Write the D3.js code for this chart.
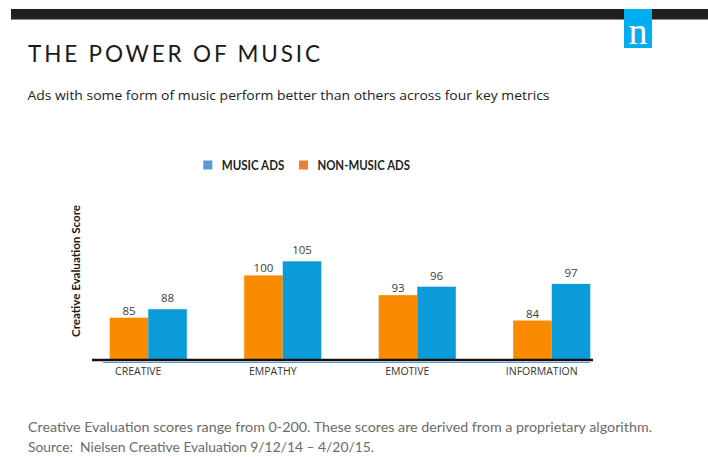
<!DOCTYPE html>
<html>
<head>
<meta charset="utf-8">
<script src="https://cdn.jsdelivr.net/npm/d3@7"></script>
<style>
  html, body { margin: 0; padding: 0; background: #fff; }
  svg { display: block; }
  text { white-space: pre; }
</style>
</head>
<body>
<div id="chart"></div>
<script>
// Creative Evaluation scores by metric
const categories = ["CREATIVE", "EMPATHY", "EMOTIVE", "INFORMATION"];
const musicAds = [88, 105, 96, 97];
const nonMusicAds = [85, 100, 93, 84];
const seriesNames = ["NON-MUSIC ADS", "MUSIC ADS"];
const legendOrder = ["MUSIC ADS", "NON-MUSIC ADS"];
const yDomain = [70, 110];

const W = 708, H = 457;
const svg = d3.select("#chart").append("svg")
  .attr("width", W).attr("height", H);

// header band and logo
svg.append("rect").attr("x", 11).attr("y", 9).attr("width", W - 11).attr("height", 10)
  .attr("fill", "#231f20");
svg.append("rect").attr("x", 11).attr("y", 19).attr("width", W - 11).attr("height", 1)
  .attr("fill", "#8a8a8a");
svg.append("rect").attr("x", 624).attr("y", 9).attr("width", 28).attr("height", 39)
  .attr("fill", "#00aeef");
svg.append("text").attr("x", 638).attr("y", 43.5).attr("text-anchor", "middle")
  .attr("font-family", "Liberation Serif, serif").attr("font-size", 38)
  .attr("fill", "#fff").text("n");

// title block
svg.append("text").attr("x", 28).attr("y", 61.7)
  .attr("font-family", "Lato, sans-serif").attr("font-size", 22.5)
  .attr("fill", "#1a1a1a")
  .attr("textLength", 292).attr("lengthAdjust", "spacing")
  .text("THE POWER OF MUSIC");
svg.append("text").attr("x", 27.5).attr("y", 100)
  .attr("font-family", "Open Sans, sans-serif").attr("font-size", 13)
  .attr("fill", "#222")
  .attr("textLength", 522).attr("lengthAdjust", "spacingAndGlyphs")
  .text("Ads with some form of music perform better than others across four key metrics");

// scales
const x0 = d3.scaleBand().domain(categories).range([81, 619])
  .paddingInner(0.427).paddingOuter(0.2135);
const x1 = d3.scaleBand().domain(seriesNames).range([0, x0.bandwidth()]);
const y = d3.scaleLinear().domain(yDomain).range([360, 247.2]);
const color = d3.scaleOrdinal().domain(seriesNames).range(["#fa8a00", "#0a9bd8"]);
const legendColor = d3.scaleOrdinal().domain(seriesNames).range(["#ed7d31", "#5b9bd5"]);
const labelGap = d3.scaleOrdinal().domain(seriesNames).range([3, 7]);

const rows = categories.map((c, i) => ({
  category: c,
  values: [
    { series: "NON-MUSIC ADS", value: nonMusicAds[i] },
    { series: "MUSIC ADS", value: musicAds[i] }
  ]
}));

const groups = svg.append("g").selectAll("g").data(rows).join("g")
  .attr("transform", d => `translate(${x0(d.category)},0)`);

groups.selectAll("rect").data(d => d.values).join("rect")
  .attr("x", d => x1(d.series))
  .attr("y", d => y(d.value))
  .attr("width", x1.bandwidth())
  .attr("height", d => y(yDomain[0]) - y(d.value))
  .attr("fill", d => color(d.series));

groups.selectAll("text").data(d => d.values).join("text")
  .attr("x", d => x1(d.series) + x1.bandwidth() / 2)
  .attr("y", d => y(d.value) - labelGap(d.series))
  .attr("text-anchor", "middle")
  .attr("font-family", "Open Sans, sans-serif").attr("font-size", 11.5)
  .attr("fill", "#404040")
  .text(d => d.value);

// baseline
svg.append("line").attr("x1", 103).attr("x2", 590).attr("y1", 362.5).attr("y2", 362.5)
  .attr("stroke", "#5b9bd5").attr("stroke-width", 1);
svg.append("line").attr("x1", 92).attr("x2", 593).attr("y1", y(yDomain[0])).attr("y2", y(yDomain[0]))
  .attr("stroke", "#111").attr("stroke-width", 2.6);

// category axis
const xAxis = svg.append("g").attr("transform", `translate(0,${y(yDomain[0])})`)
  .call(d3.axisBottom(x0).tickSize(0).tickPadding(8));
xAxis.select(".domain").remove();
xAxis.selectAll("text")
  .attr("dx", -10)
  .attr("font-family", "Open Sans, sans-serif").attr("font-size", 10.5)
  .attr("fill", "#333");

// y title
svg.append("text")
  .attr("transform", "translate(80,271) rotate(-90)")
  .attr("text-anchor", "middle")
  .attr("font-family", "Lato, sans-serif").attr("font-weight", 700)
  .attr("font-size", 12).attr("fill", "#1a1a1a")
  .attr("textLength", 132).attr("lengthAdjust", "spacingAndGlyphs")
  .text("Creative Evaluation Score");

// legend
const legendX = d3.scaleOrdinal().domain(legendOrder).range([203.3, 299]);
const legendW = d3.scaleOrdinal().domain(legendOrder).range([62.6, 92.6]);
const legend = svg.append("g").selectAll("g").data(legendOrder).join("g")
  .attr("transform", d => `translate(${legendX(d)},160.5)`);
legend.append("rect").attr("width", 9).attr("height", 9)
  .attr("fill", d => legendColor(d));
legend.append("text").attr("x", 18.4).attr("y", 9)
  .attr("font-family", "Lato, sans-serif").attr("font-weight", 700)
  .attr("font-size", 12.5).attr("fill", "#1f1f1f")
  .attr("textLength", d => legendW(d)).attr("lengthAdjust", "spacingAndGlyphs")
  .text(d => d);

// footnote
const notes = [
  "Creative Evaluation scores range from 0-200. These scores are derived from a proprietary algorithm.",
  "Source:  Nielsen Creative Evaluation 9/12/14 \u2013 4/20/15."
];
const noteWidths = [624, 346];
svg.append("g").selectAll("text").data(notes).join("text")
  .attr("x", 28).attr("y", (d, i) => 431.6 + i * 20.6)
  .attr("font-family", "Lato, sans-serif").attr("font-size", 14)
  .attr("fill", "#6b6b6b")
  .attr("textLength", (d, i) => noteWidths[i]).attr("lengthAdjust", "spacingAndGlyphs")
  .text(d => d);
</script>
</body>
</html>
